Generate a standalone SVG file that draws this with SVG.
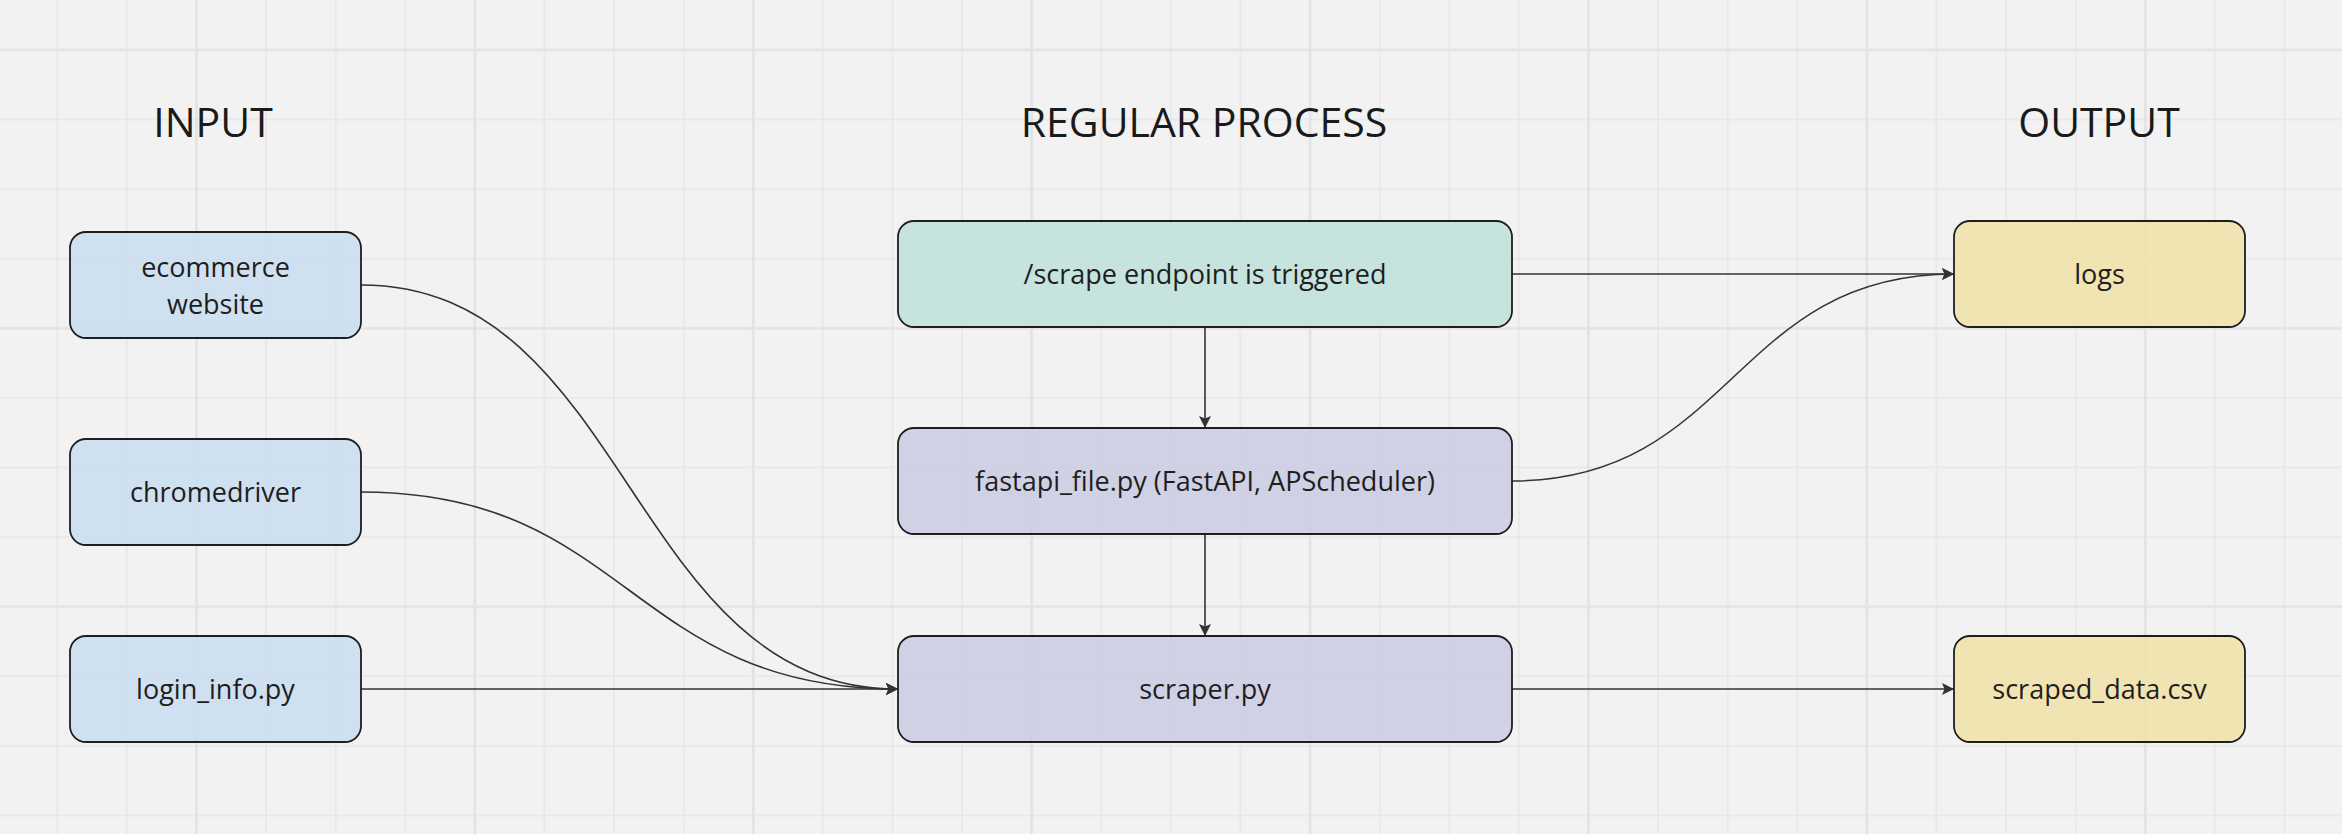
<svg xmlns="http://www.w3.org/2000/svg" width="2342" height="834" viewBox="0 0 2342 834">
  <style>
    .title { font-family: "Open Sans", "Noto Sans", "Liberation Sans", sans-serif; font-size: 41px; fill: #1a1a1a; text-anchor: middle; }
    .label { font-family: "Open Sans", "Noto Sans", "Liberation Sans", sans-serif; font-size: 27px; fill: #1e1e1e; text-anchor: middle; }
    .box { stroke: #1e1e1e; stroke-width: 1.8; fill-opacity: 0.85; }
    .in { fill: #c9ddf0; }
    .trig { fill: #bfe0da; }
    .proc { fill: #cacbe3; }
    .out { fill: #f1e2a8; }
    .conn { fill: none; stroke: #333333; stroke-width: 1.6; marker-end: url(#arrow); }
  </style>
  <defs>
    <pattern id="minor" x="22.5" y="-54.5" width="69.6" height="69.6" patternUnits="userSpaceOnUse">
      <path d="M34.8,0 V69.6 M0,34.8 H69.6" stroke="#e6e6e6" stroke-width="1.5" fill="none"/>
    </pattern>
    <pattern id="major" x="57.3" y="-89.3" width="278.4" height="278.4" patternUnits="userSpaceOnUse">
      <path d="M139.2,0 V278.4 M0,139.2 H278.4" stroke="#e2e2e2" stroke-width="2.2" fill="none"/>
    </pattern>
    <marker id="arrow" markerUnits="userSpaceOnUse" markerWidth="12" markerHeight="12" refX="12" refY="6" orient="auto">
      <path d="M0,0 L12,6 L0,12 L2.5,6 Z" fill="#333333"/>
    </marker>
  </defs>

  <rect x="0" y="0" width="2342" height="834" fill="#f2f2f2"/>
  <rect x="0" y="0" width="2342" height="834" fill="url(#minor)"/>
  <rect x="0" y="0" width="2342" height="834" fill="url(#major)"/>

  <g id="headings">
    <text class="title" x="213" y="137">INPUT</text>
    <text class="title" x="1204" y="137">REGULAR PROCESS</text>
    <text class="title" x="2099" y="137">OUTPUT</text>
  </g>

  <g id="connectors">
    <path class="conn" d="M1205,327 L1205,428"/>
    <path class="conn" d="M1205,534 L1205,636"/>
    <path class="conn" d="M1512,274 L1954,274"/>
    <path class="conn" d="M1512,481 C1733,481 1733,274 1954,274"/>
    <path class="conn" d="M1512,689 L1954,689"/>
    <path class="conn" d="M361,689 L898,689"/>
    <path class="conn" d="M361,285 C629.5,285 629.5,689 898,689"/>
    <path class="conn" d="M361,492 C629.5,492 629.5,689 898,689"/>
  </g>

  <g id="ecommerce">
    <rect class="box in" x="70" y="232" width="291" height="106" rx="16"/>
    <text class="label" x="215.5" y="277">ecommerce</text>
    <text class="label" x="215.5" y="314">website</text>
  </g>
  <g id="chromedriver">
    <rect class="box in" x="70" y="439" width="291" height="106" rx="16"/>
    <text class="label" x="215.5" y="502">chromedriver</text>
  </g>
  <g id="login_info">
    <rect class="box in" x="70" y="636" width="291" height="106" rx="16"/>
    <text class="label" x="215.5" y="699">login_info.py</text>
  </g>

  <g id="scrape_endpoint">
    <rect class="box trig" x="898" y="221" width="614" height="106" rx="16"/>
    <text class="label" x="1205" y="284">/scrape endpoint is triggered</text>
  </g>
  <g id="fastapi_file">
    <rect class="box proc" x="898" y="428" width="614" height="106" rx="16"/>
    <text class="label" x="1205" y="491">fastapi_file.py (FastAPI, APScheduler)</text>
  </g>
  <g id="scraper">
    <rect class="box proc" x="898" y="636" width="614" height="106" rx="16"/>
    <text class="label" x="1205" y="699">scraper.py</text>
  </g>

  <g id="logs">
    <rect class="box out" x="1954" y="221" width="291" height="106" rx="16"/>
    <text class="label" x="2099.5" y="284">logs</text>
  </g>
  <g id="scraped_data">
    <rect class="box out" x="1954" y="636" width="291" height="106" rx="16"/>
    <text class="label" x="2099.5" y="699">scraped_data.csv</text>
  </g>
</svg>
